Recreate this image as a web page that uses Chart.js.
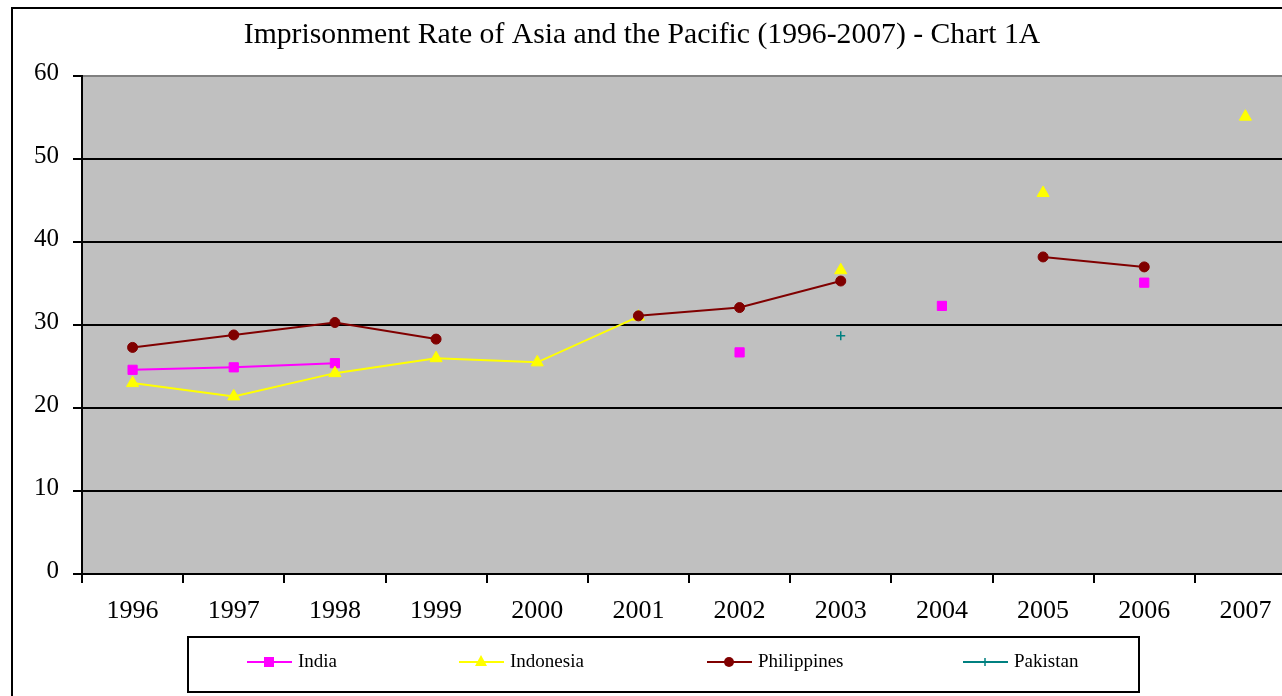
<!DOCTYPE html>
<html>
<head>
<meta charset="utf-8">
<script src="https://cdn.jsdelivr.net/npm/chart.js@4.4.1/dist/chart.umd.min.js"></script>
<style>
  html, body { margin: 0; padding: 0; background: #fff; overflow: hidden; width: 1282px; height: 696px; }
  #frame { position: absolute; left: 11px; top: 7px; width: 1400px; height: 800px; border: 2px solid #000; box-sizing: border-box; }
  #wrap { position: absolute; left: 0; top: 0; width: 1304px; height: 696px; }
</style>
</head>
<body>
<div id="frame"></div>
<div id="wrap"><canvas id="c" width="1304" height="696"></canvas></div>
<script>
const titleText = 'Imprisonment Rate of Asia and the Pacific (1996-2007) - Chart 1A';
const years = ['1996','1997','1998','1999','2000','2001','2002','2003','2004','2005','2006','2007'];
const india       = [24.6, 24.9, 25.4, null, null, null, 26.7, null, 32.3, null, 35.1, null];
const indonesia   = [23.0, 21.4, 24.2, 26.0, 25.5, 31.0, null, 36.6, null, 45.9, null, 55.1];
const philippines = [27.3, 28.8, 30.3, 28.3, null, 31.1, 32.1, 35.3, null, 38.2, 37.0, null];
const pakistan    = [null, null, null, null, null, null, null, 28.7, null, null, null, null];
const yTicks = [0, 10, 20, 30, 40, 50, 60];

const serif = '"Liberation Serif", "Times New Roman", serif';
const legendX = [247, 459, 707, 963];

const bgPlugin = {
  id: 'bg',
  beforeDraw(chart) {
    const a = chart.chartArea, ctx = chart.ctx;
    ctx.save();
    ctx.fillStyle = '#C0C0C0';
    ctx.fillRect(a.left, a.top, a.right - a.left, a.bottom - a.top);
    ctx.restore();
  }
};

function drawMarker(ctx, style, x, y, color) {
  ctx.save();
  ctx.fillStyle = color; ctx.strokeStyle = color;
  if (style === 'rect') { ctx.fillRect(x - 5, y - 5, 10, 10); }
  else if (style === 'triangle') {
    ctx.beginPath(); ctx.moveTo(x, y - 7); ctx.lineTo(x + 6, y + 4); ctx.lineTo(x - 6, y + 4); ctx.closePath(); ctx.fill();
  } else if (style === 'circle') {
    ctx.beginPath(); ctx.arc(x, y, 5, 0, Math.PI * 2); ctx.fill();
  } else if (style === 'cross') {
    ctx.lineWidth = 1.5; ctx.beginPath(); ctx.moveTo(x - 4, y); ctx.lineTo(x + 4, y); ctx.moveTo(x, y - 4); ctx.lineTo(x, y + 4); ctx.stroke();
  }
  ctx.restore();
}

const textPlugin = {
  id: 'texts',
  afterDraw(chart) {
    const ctx = chart.ctx;
    ctx.save();
    ctx.fillStyle = '#000';
    ctx.font = '29.7px ' + serif;
    ctx.textAlign = 'center';
    ctx.textBaseline = 'alphabetic';
    ctx.fillText(titleText, 642, 43);
    ctx.lineWidth = 2;
    ctx.strokeStyle = '#000';
    ctx.strokeRect(188, 637, 951, 55);
    ctx.font = '19px ' + serif;
    ctx.textAlign = 'left';
    ctx.textBaseline = 'middle';
    const ly = 662;
    chart.data.datasets.forEach((ds, i) => {
      const x = legendX[i];
      ctx.strokeStyle = ds.borderColor;
      ctx.lineWidth = 2;
      ctx.beginPath(); ctx.moveTo(x, ly); ctx.lineTo(x + 45, ly); ctx.stroke();
      drawMarker(ctx, ds.pointStyle, x + 22, ly, ds.pointBackgroundColor);
      ctx.fillStyle = '#000';
      ctx.fillText(ds.label, x + 51, ly);
    });
    ctx.restore();
  }
};

new Chart(document.getElementById('c'), {
  type: 'line',
  data: {
    labels: years,
    datasets: [
      { label: 'India', data: india, borderColor: '#FF00FF', backgroundColor: '#FF00FF', pointBackgroundColor: '#FF00FF', pointBorderColor: '#FF00FF',
        pointStyle: 'rect', pointRadius: 6.5, pointBorderWidth: 1, borderWidth: 2, order: 4 },
      { label: 'Indonesia', data: indonesia, borderColor: '#FFFF00', backgroundColor: '#FFFF00', pointBackgroundColor: '#FFFF00', pointBorderColor: '#FFFF00',
        pointStyle: 'triangle', pointRadius: 7, pointBorderWidth: 1, borderWidth: 2, order: 3 },
      { label: 'Philippines', data: philippines, borderColor: '#800000', backgroundColor: '#800000', pointBackgroundColor: '#800000', pointBorderColor: '#800000',
        pointStyle: 'circle', pointRadius: 5, pointBorderWidth: 1, borderWidth: 2, order: 2 },
      { label: 'Pakistan', data: pakistan, borderColor: '#008080', backgroundColor: '#008080', pointBackgroundColor: '#008080', pointBorderColor: '#008080',
        pointStyle: 'cross', pointRadius: 4.5, pointBorderWidth: 1.5, borderWidth: 2, order: 1 }
    ]
  },
  options: {
    responsive: false,
    animation: false,
    spanGaps: false,
    layout: { padding: { left: 0, right: 4, top: 76, bottom: 0 } },
    plugins: { legend: { display: false }, title: { display: false }, tooltip: { enabled: false } },
    scales: {
      x: {
        type: 'category',
        offset: true,
        afterFit(s) { s.height = 122; },
        grid: { offset: true, drawOnChartArea: false, drawTicks: true, tickLength: 9, color: '#000', lineWidth: 2 },
        border: { display: true, color: '#000', width: 2 },
        ticks: { color: '#000', font: { family: serif, size: 26 }, padding: 13, maxRotation: 0, autoSkip: false }
      },
      y: {
        min: 0, max: 60,
        afterFit(s) { s.width = 82; },
        afterBuildTicks(s) { s.ticks = yTicks.map(v => ({ value: v })); },
        grid: {
          drawTicks: true, tickLength: 9, lineWidth: 2,
          color: c => (c.tick && c.tick.value === 60) ? '#808080' : '#000',
          tickColor: '#000'
        },
        border: { display: true, color: '#000', width: 2 },
        ticks: { color: '#000', font: { family: serif, size: 25 }, padding: 14, labelOffset: -3 }
      }
    }
  },
  plugins: [bgPlugin, textPlugin]
});
</script>
</body>
</html>
